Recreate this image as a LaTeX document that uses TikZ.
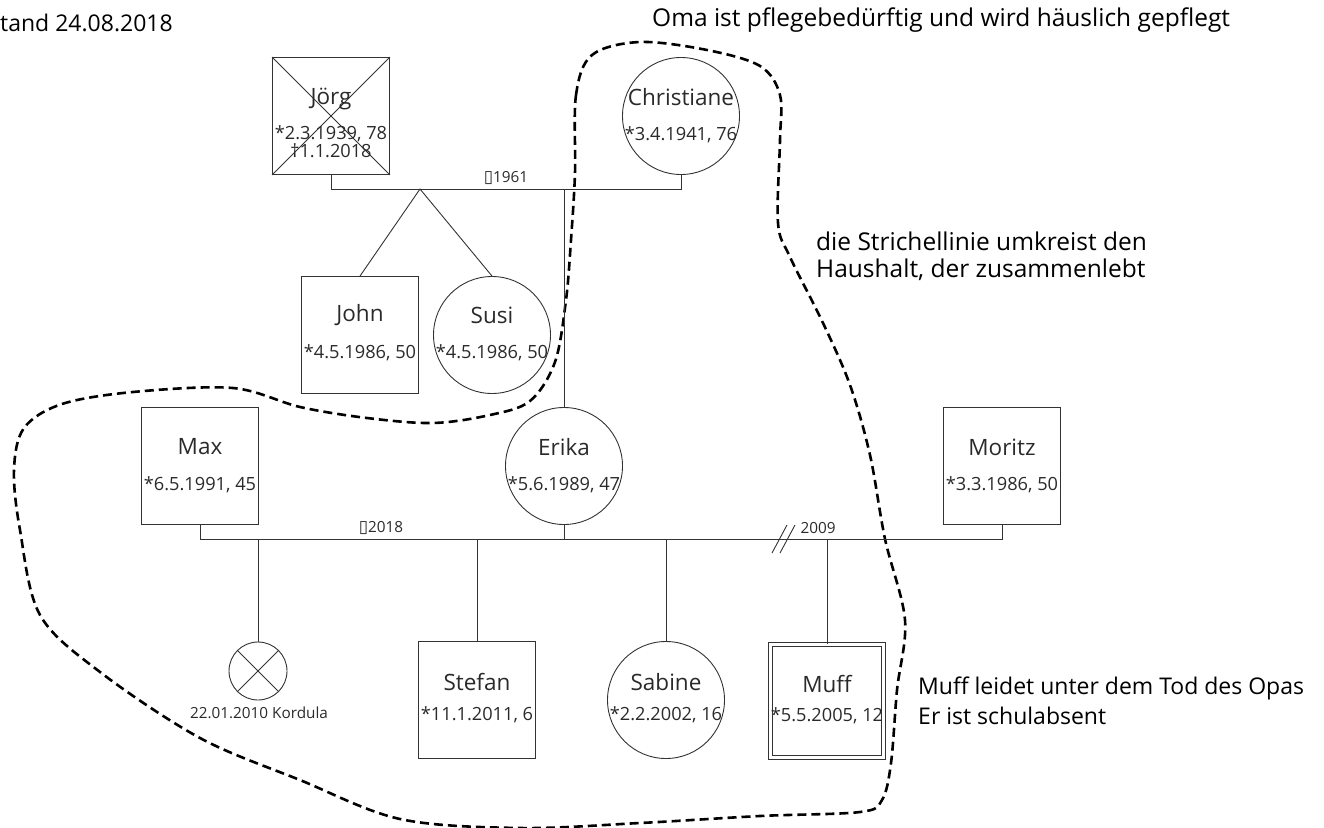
\documentclass[tikz,border=0pt]{standalone}
\usepackage{fontspec}
\setmainfont{Open Sans}
\newfontfamily\symf{DejaVu Sans}
\definecolor{txt}{HTML}{2A2A2A}
\definecolor{linec}{HTML}{333333}
\begin{document}
\begin{tikzpicture}[x=1pt,y=-1pt,
  male/.style={draw=linec, line width=0.9pt, minimum size=117pt, inner sep=0pt},
  female/.style={draw=linec, line width=0.9pt, circle, minimum size=117pt, inner sep=0pt},
  lostc/.style={draw=linec, line width=0.9pt, circle, minimum size=58pt, inner sep=0pt},
  muffbox/.style={draw=linec, line width=0.8pt, double, double distance=3.5pt, minimum size=113pt, inner sep=0pt},
  nm/.style={text=txt, inner sep=0pt, font=\fontsize{22.5}{26}\selectfont},
  dt/.style={text=txt, inner sep=0pt, font=\fontsize{18.2}{21}\selectfont},
  lbl/.style={text=txt, inner sep=0pt, font=\fontsize{15.3}{18}\selectfont},
  ann/.style={text=black, inner sep=0pt, anchor=west, font=\fontsize{24.5}{28}\selectfont},
  annb/.style={ann, font=\fontsize{23}{27}\selectfont},
  rel/.style={draw=linec, line width=0.9pt},
  hh/.style={draw=black, line width=2.6pt, dash pattern=on 9pt off 5pt},
]
\useasboundingbox (0,0) rectangle (1324,827);

% household outline
\draw[hh] plot[smooth cycle, tension=0.55] coordinates {
 (575,173) (576,95) (592,55) (640,42) (707,50) (760,66) (780,95) (780,140)
 (778,223) (790,257) (823,323) (850,385) (870,455) (885,539) (905,620)
 (897,690) (891,763) (882,800) (860,812) (760,816) (640,823) (520,828)
 (400,819) (300,780) (200,738) (100,672) (40,615) (20,530) (14,470) (24,428)
 (62,404) (133,392) (233,388) (300,407) (367,418) (433,423) (490,415)
 (530,401) (555,362) (566,300) (571,240)};

% persons
\node[male] (jorg) at (331,116) {};
\draw[rel] (jorg.north west) -- (jorg.south east);
\draw[rel] (jorg.north east) -- (jorg.south west);
\node[nm] (jorgN) at (331,99) {Jörg};
\node[dt] (jorgD) at (331,134) {*2.3.1939, 78};
\node[dt] (jorgT) at (331,151) {†1.1.2018};

\node[female] (chris) at (681,116) {};
\node[nm] (chrisN) at (681,97) {Christiane};
\node[dt] (chrisD) at (681,135) {*3.4.1941, 76};

\node[male] (john) at (360,335) {};
\node[nm] (johnN) at (360,315) {John};
\node[dt] (johnD) at (360,353) {*4.5.1986, 50};

\node[female] (susi) at (492,335) {};
\node[nm] (susiN) at (492,315) {Susi};
\node[dt] (susiD) at (492,353) {*4.5.1986, 50};

\node[male] (max) at (200,466) {};
\node[nm] (maxN) at (200,447) {Max};
\node[dt] (maxD) at (200,485) {*6.5.1991, 45};

\node[female] (erika) at (564,466) {};
\node[nm] (erikaN) at (564,447) {Erika};
\node[dt] (erikaD) at (564,485) {*5.6.1989, 47};

\node[male] (moritz) at (1002,466) {};
\node[nm] (moritzN) at (1002,447) {Moritz};
\node[dt] (moritzD) at (1002,485) {*3.3.1986, 50};

\node[lostc] (kord) at (258,671) {};
\draw[rel] (kord.north west) -- (kord.south east);
\draw[rel] (kord.north east) -- (kord.south west);
\node[lbl] (kordL) at (259,713) {22.01.2010 Kordula};

\node[male] (stefan) at (477,700) {};
\node[nm] (stefanN) at (477,682) {Stefan};
\node[dt] (stefanD) at (477,715) {*11.1.2011, 6};

\node[female] (sabine) at (666,700) {};
\node[nm] (sabineN) at (666,682) {Sabine};
\node[dt] (sabineD) at (666,715) {*2.2.2002, 16};

\node[muffbox] (muff) at (827,701) {};
\node[nm] (muffN) at (827,684) {Muff};
\node[dt] (muffD) at (827,716) {*5.5.2005, 12};

% relation coordinates
\coordinate (m1L) at (331,189);
\coordinate (m1R) at (681,189);
\coordinate (k1) at (420,189);
\coordinate (k2) at (564,189);
\coordinate (m2L) at (200,539);
\coordinate (m2R) at (1002,539);
\coordinate (m2E) at (564,539);
\coordinate (c1) at (258,539);
\coordinate (c2) at (477,539);
\coordinate (c3) at (666,539);
\coordinate (c4) at (827,539);
\coordinate (s1a) at (772,553);
\coordinate (s1b) at (787,525);
\coordinate (s2a) at (780,553);
\coordinate (s2b) at (795,525);

\draw[rel] (jorg.south) -- (m1L) -- (m1R) -- (chris.south);
\draw[rel] (john.north) -- (k1) -- (susi.north);
\draw[rel] (k2) -- (erika.north);
\draw[rel] (max.south) -- (m2L) -- (m2R) -- (moritz.south);
\draw[rel] (erika.south) -- (m2E);
\draw[rel] (c1) -- (kord.north);
\draw[rel] (c2) -- (stefan.north);
\draw[rel] (c3) -- (sabine.north);
\draw[rel] (c4) -- (muff.north);
\draw[rel] (s1a) -- (s1b);
\draw[rel] (s2a) -- (s2b);

% relation labels
\node[lbl] (l1961) at (506,178) {{\symf\fontsize{17}{18}\selectfont ▯}1961};
\node[lbl] (l2018) at (381,528) {{\symf\fontsize{17}{18}\selectfont ▯}2018};
\node[lbl] (l2009) at (818,528) {2009};

% annotations
\node[annb] (a0) at (0,23) {tand 24.08.2018};
\node[ann] (a1) at (652,20) {Oma ist pflegebedürftig und wird häuslich gepflegt};
\node[ann] (a2) at (816,241) {die Strichellinie umkreist den};
\node[ann] (a3) at (816,270) {Haushalt, der zusammenlebt};
\node[annb] (a4) at (918,688) {Muff leidet unter dem Tod des Opas};
\node[annb] (a5) at (918,716) {Er ist schulabsent};
\end{tikzpicture}
\end{document}
